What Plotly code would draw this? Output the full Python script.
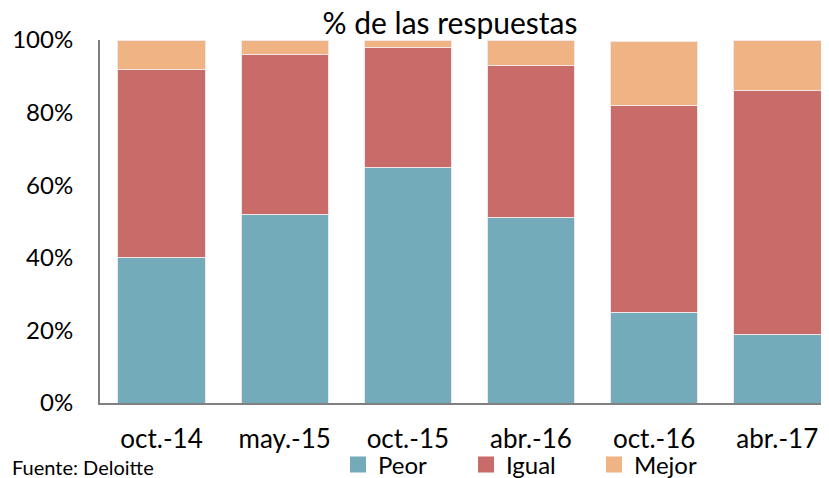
import plotly.graph_objects as go

# Encuesta Deloitte: % de las respuestas
periodos = ['oct.-14', 'may.-15', 'oct.-15', 'abr.-16', 'oct.-16', 'abr.-17']
peor = [40, 52, 65, 51, 25, 19]
igual = [52, 44, 33, 42, 57, 67]
mejor = [8, 4, 2, 7, 17.5, 14]

series = [
    ('Peor', peor, '#74ABBB'),
    ('Igual', igual, '#C96B69'),
    ('Mejor', mejor, '#F0B383'),
]

FONT = 'Lato, Open Sans, sans-serif'
# the page body adds an 8px margin, so the figure is drawn 8px smaller
W, H = 821, 470

fig = go.Figure()
for name, vals, color in series:
    fig.add_trace(go.Bar(
        x=periodos,
        y=vals,
        name=name,
        showlegend=False,
        marker=dict(color=color, line=dict(color='#F3E6E6', width=1)),
    ))

# legend entries with larger square swatches
for name, vals, color in series:
    fig.add_trace(go.Scatter(
        x=[None], y=[None], mode='markers', name=name,
        marker=dict(symbol='square', size=17, color=color),
    ))

fig.update_layout(
    barmode='stack',
    bargap=0.29,
    width=W,
    height=H,
    margin=dict(l=92, r=0, t=32, b=75, autoexpand=False),
    plot_bgcolor='white',
    paper_bgcolor='white',
    font=dict(family=FONT, color='black'),
    title=dict(text='% de las respuestas', x=442 / W, xanchor='center',
               y=1 - 15 / H, yanchor='middle', font=dict(size=30, family=FONT)),
    legend=dict(orientation='h', xref='container', yref='container',
                x=330 / W, xanchor='left', y=13 / H, yanchor='middle',
                bgcolor='rgba(0,0,0,0)',
                font=dict(size=24, family=FONT),
                traceorder='normal', entrywidth=83, entrywidthmode='pixels',
                itemwidth=30, tracegroupgap=0),
    showlegend=True,
)

fig.update_xaxes(
    range=[-0.5, 5.42],
    showline=True, linecolor='#808080', linewidth=2,
    ticks='', tickfont=dict(size=26, family=FONT),
    ticklabelstandoff=12,
)
fig.update_yaxes(
    range=[0, 100],
    tickvals=[0, 20, 40, 60, 80, 100],
    ticktext=['0%', '20%', '40%', '60%', '80%', '100%'],
    showline=True, linecolor='#808080', linewidth=2,
    showgrid=False, zeroline=False,
    ticks='', tickfont=dict(size=24, family=FONT),
    ticklabelstandoff=20,
)

fig.add_annotation(text='Fuente: Deloitte', xref='paper', yref='paper',
                   x=-90 / 729, y=-64 / 363, xanchor='left', yanchor='middle',
                   showarrow=False, font=dict(size=20, family=FONT))

fig.write_html('out.html')
